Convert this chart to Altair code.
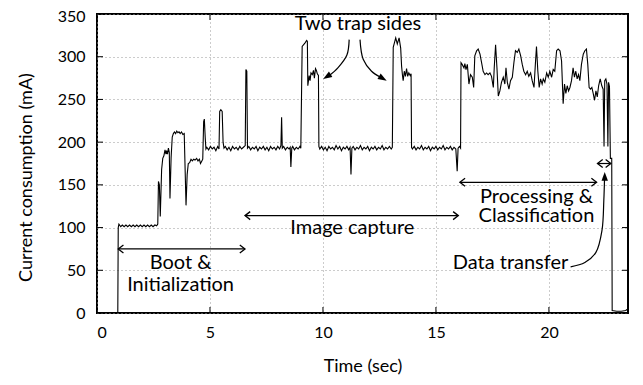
import altair as alt
import pandas as pd

# ---------------- data ----------------
boot_segment = [
    (0.00, 0), (0.92, 0), (0.94, 100), (0.97, 104), (1.05, 101), (1.12, 103), (1.20, 101),
    (1.28, 103), (1.36, 101), (1.44, 103), (1.52, 101), (1.60, 103), (1.68, 101), (1.76, 103),
    (1.84, 101), (1.92, 103), (2.00, 101), (2.08, 103), (2.16, 101), (2.24, 103), (2.32, 101),
    (2.40, 103), (2.48, 101), (2.56, 103), (2.64, 102),
    (2.69, 104), (2.72, 154), (2.76, 150), (2.80, 113), (2.86, 168), (2.91, 181), (2.96, 184),
    (3.01, 191), (3.05, 186), (3.08, 190), (3.12, 186), (3.16, 193), (3.20, 188), (3.23, 134),
    (3.28, 182), (3.33, 206), (3.38, 210), (3.43, 212), (3.48, 210), (3.53, 213), (3.58, 211),
    (3.63, 212), (3.68, 210), (3.74, 212), (3.80, 209), (3.86, 210), (3.94, 126), (3.99, 162),
    (4.04, 175), (4.10, 176), (4.16, 180), (4.22, 178), (4.28, 180), (4.34, 179), (4.41, 181),
    (4.47, 178), (4.53, 180), (4.58, 175), (4.64, 178), (4.68, 180), (4.72, 224), (4.75, 227),
    (4.79, 205), (4.82, 192),
]

capture_segment = [
    (4.86, 194), (4.94, 191), (5.02, 195), (5.10, 192), (5.18, 194), (5.26, 190), (5.34, 195),
    (5.40, 192), (5.43, 236), (5.48, 238), (5.54, 236), (5.58, 200), (5.62, 193),
    (5.68, 195), (5.76, 191), (5.84, 194), (5.92, 190), (6.00, 195), (6.08, 192), (6.16, 194),
    (6.24, 191), (6.32, 195), (6.40, 192), (6.48, 194), (6.56, 196),
    (6.59, 285), (6.63, 283), (6.66, 193),
    (6.72, 195), (6.80, 191), (6.88, 194), (6.96, 192), (7.04, 195), (7.12, 190), (7.20, 194),
    (7.28, 192), (7.36, 195), (7.44, 191), (7.52, 194), (7.60, 190), (7.68, 195), (7.76, 192),
    (7.84, 194), (7.92, 191), (8.00, 195), (8.08, 192), (8.14, 196),
    (8.17, 229), (8.20, 193),
    (8.26, 195), (8.34, 191), (8.42, 194), (8.50, 192), (8.55, 194), (8.58, 171), (8.62, 193),
    (8.66, 195), (8.74, 191), (8.82, 194), (8.90, 192), (8.98, 195), (9.02, 193),
    (9.08, 312), (9.20, 316), (9.28, 319), (9.31, 318), (9.33, 266), (9.39, 278), (9.43, 272),
    (9.47, 281), (9.53, 279), (9.58, 284), (9.62, 275), (9.67, 286), (9.71, 284), (9.75, 280),
    (9.80, 278), (9.82, 195),
    (9.86, 192), (9.94, 195), (10.02, 191), (10.10, 194), (10.18, 190), (10.26, 195), (10.34, 192),
    (10.42, 194), (10.50, 191), (10.58, 196), (10.66, 192), (10.74, 195), (10.82, 190), (10.90, 194),
    (10.98, 192), (11.06, 195), (11.14, 191), (11.20, 194), (11.24, 162), (11.28, 193), (11.34, 195),
    (11.42, 191), (11.50, 194), (11.58, 192), (11.66, 196), (11.74, 191), (11.82, 194), (11.90, 192),
    (11.98, 195), (12.06, 190), (12.14, 194), (12.22, 192), (12.30, 195), (12.38, 191), (12.46, 194),
    (12.54, 192), (12.62, 196), (12.70, 191), (12.78, 194), (12.86, 192), (12.94, 195), (13.02, 192),
    (13.07, 194),
    (13.11, 311), (13.22, 322), (13.29, 315), (13.37, 322), (13.44, 310), (13.48, 289), (13.52, 278),
    (13.55, 272), (13.60, 283), (13.65, 277), (13.70, 286), (13.75, 277), (13.80, 281), (13.86, 278),
    (13.90, 280), (13.92, 194),
    (13.96, 192), (14.04, 195), (14.12, 191), (14.20, 194), (14.28, 192), (14.36, 196), (14.44, 191),
    (14.52, 194), (14.60, 192), (14.68, 195), (14.76, 190), (14.84, 194), (14.92, 192), (15.00, 195),
    (15.08, 191), (15.16, 194), (15.24, 192), (15.32, 196), (15.40, 191), (15.48, 194), (15.56, 192),
    (15.64, 195), (15.72, 191), (15.80, 194), (15.88, 192), (15.94, 166), (15.98, 193), (16.04, 195),
    (16.09, 193),
]

processing_segment = [
    (16.11, 293), (16.16, 291), (16.24, 287), (16.28, 292), (16.33, 285), (16.39, 291), (16.46, 268),
    (16.53, 279), (16.61, 276), (16.67, 264), (16.72, 301), (16.80, 307), (16.87, 309), (16.95, 303),
    (17.02, 293), (17.09, 283), (17.17, 279), (17.24, 281), (17.31, 279), (17.39, 281), (17.46, 277),
    (17.54, 264), (17.58, 287), (17.64, 314), (17.70, 287), (17.76, 254), (17.83, 260), (17.90, 270),
    (17.98, 276), (18.05, 268), (18.10, 287), (18.16, 270), (18.23, 262), (18.30, 272), (18.38, 276),
    (18.45, 293), (18.52, 307), (18.60, 305), (18.67, 309), (18.75, 301), (18.82, 291), (18.89, 283),
    (18.97, 279), (19.04, 283), (19.11, 277), (19.19, 281), (19.26, 272), (19.34, 264), (19.40, 291),
    (19.45, 312), (19.51, 283), (19.57, 264), (19.63, 274), (19.70, 268), (19.75, 274), (19.82, 270),
    (19.90, 281), (19.97, 276), (20.04, 283), (20.12, 276), (20.19, 285), (20.26, 283), (20.34, 307),
    (20.41, 309), (20.49, 307), (20.56, 295), (20.63, 245), (20.69, 268), (20.75, 257), (20.81, 266),
    (20.87, 260), (20.93, 264), (21.00, 272), (21.07, 287), (21.13, 276), (21.19, 283), (21.25, 274),
    (21.31, 279), (21.37, 272), (21.44, 291), (21.52, 303), (21.59, 307), (21.66, 309), (21.72, 291),
    (21.78, 264), (21.84, 262), (21.90, 264), (21.96, 257), (22.02, 249), (22.08, 260), (22.14, 253),
    (22.20, 266), (22.27, 274), (22.34, 266), (22.40, 262), (22.44, 195), (22.47, 272), (22.52, 274),
    (22.57, 268), (22.61, 195), (22.64, 270), (22.68, 265), (22.72, 181), (22.78, 181), (22.80, 3),
    (23.00, 2), (23.20, 2), (23.40, 3), (23.50, 5),
]

x_ticks = [0, 5, 10, 15, 20]
y_ticks = [0, 50, 100, 150, 200, 250, 300, 350]

# phase double arrows: start, end, level
phase_arrows = [
    (0.94, 6.55, 75),     # Boot & Initialization
    (6.55, 15.99, 114),   # Image capture
    (16.06, 22.11, 153),  # Processing & Classification
    (22.15, 22.74, 175),  # Data transfer
]

single_labels = [
    ("Two trap sides", 11.55, 338),
    ("Image capture", 11.3, 99),
    ("Data transfer", 18.3, 58),
]
boot_label = (["Boot &", "Initialization"], 3.70, 58)
proc_label = (["Processing &", "Classification"], 19.45, 136)

# curved pointer arrows (path points)
curve_left = [(11.16, 320), (11.06, 302), (10.66, 287), (10.28, 278)]
curve_right = [(11.64, 320), (11.78, 297), (12.15, 283), (12.55, 276)]
curve_data = [(20.96, 54), (21.59, 59), (22.08, 71), (22.35, 97), (22.43, 132), (22.46, 156)]

# arrow heads: x, y, angle (deg, clockwise; base shape points up)
heads = [(10.01, 274, 238), (12.82, 272, 120), (22.47, 165, 0)]

# ---------------- build ----------------
trace = pd.DataFrame(boot_segment + capture_segment + processing_segment, columns=["t", "mA"])
xs = alt.Scale(domain=[0, 23.5], nice=False, zero=False)
ys = alt.Scale(domain=[0, 350], nice=False)
FONT = "Lato"
W, H = 531, 299

line = alt.Chart(trace).mark_line(color="black", strokeWidth=1.1, clip=True).encode(
    x=alt.X("t:Q", scale=xs, title="Time (sec)",
            axis=alt.Axis(values=x_ticks, grid=True, ticks=False, domain=False,
                          gridColor="#999999", gridDash=[1, 3], gridWidth=1,
                          labelFont=FONT, labelFontSize=16, labelColor="black", labelPadding=11,
                          titleFont=FONT, titleFontSize=18, titleFontWeight="normal",
                          titleColor="black", titlePadding=17)),
    y=alt.Y("mA:Q", scale=ys, title="Current consumption (mA)",
            axis=alt.Axis(values=y_ticks, grid=True, ticks=False, domain=False,
                          gridColor="#999999", gridDash=[1, 3], gridWidth=1,
                          labelFont=FONT, labelFontSize=16, labelColor="black", labelPadding=12,
                          labelOffset={"condition": {"test": "datum.value == 350", "value": 2},
                                       "value": 0},
                          titleFont=FONT, titleFontSize=18, titleFontWeight="normal",
                          titleColor="black", titleX=-62, titleY=163)),
)

xt = pd.DataFrame({"v": x_ticks})
yt = pd.DataFrame({"v": y_ticks})
tick_len = 6
tb = alt.Chart(xt).mark_rule(color="black", strokeWidth=1).encode(
    x=alt.X("v:Q", scale=xs, axis=None), y=alt.value(H), y2=alt.value(H - tick_len))
tt = alt.Chart(xt).mark_rule(color="black", strokeWidth=1).encode(
    x=alt.X("v:Q", scale=xs, axis=None), y=alt.value(0), y2=alt.value(tick_len))
tl = alt.Chart(yt).mark_rule(color="black", strokeWidth=1).encode(
    y=alt.Y("v:Q", scale=ys, axis=None), x=alt.value(0), x2=alt.value(tick_len))
tr = alt.Chart(yt).mark_rule(color="black", strokeWidth=1).encode(
    y=alt.Y("v:Q", scale=ys, axis=None), x=alt.value(W), x2=alt.value(W - tick_len))

arr = pd.DataFrame(phase_arrows, columns=["a", "b", "y"])
shaft = alt.Chart(arr).mark_rule(color="black", strokeWidth=1.2).encode(
    x=alt.X("a:Q", scale=xs, axis=None), x2="b:Q", y=alt.Y("y:Q", scale=ys, axis=None))
chev_r = alt.Chart(arr).mark_point(shape="M-1.3,-1L0,0L-1.3,1", filled=False, color="black",
                                    strokeWidth=1.3, size=64, opacity=1).encode(
    x=alt.X("b:Q", scale=xs, axis=None), y=alt.Y("y:Q", scale=ys, axis=None))
chev_l = alt.Chart(arr).mark_point(shape="M1.3,-1L0,0L1.3,1", filled=False, color="black",
                                    strokeWidth=1.3, size=64, opacity=1).encode(
    x=alt.X("a:Q", scale=xs, axis=None), y=alt.Y("y:Q", scale=ys, axis=None))

lab = pd.DataFrame(single_labels, columns=["text", "x", "y"])
texts = alt.Chart(lab).mark_text(font=FONT, fontSize=20, color="black", align="center",
                                  baseline="middle").encode(
    x=alt.X("x:Q", scale=xs, axis=None), y=alt.Y("y:Q", scale=ys, axis=None), text="text:N")

boot_df = pd.DataFrame({"text": [boot_label[0]], "x": [boot_label[1]], "y": [boot_label[2]]})
boot_txt = alt.Chart(boot_df).mark_text(font=FONT, fontSize=20, color="black", align="center",
                                        baseline="middle", lineHeight=22).encode(
    x=alt.X("x:Q", scale=xs, axis=None), y=alt.Y("y:Q", scale=ys, axis=None), text="text")

proc_df = pd.DataFrame({"text": [proc_label[0]], "x": [proc_label[1]], "y": [proc_label[2]]})
proc_txt = alt.Chart(proc_df).mark_text(font=FONT, fontSize=20, color="black", align="center",
                                        baseline="middle", lineHeight=19).encode(
    x=alt.X("x:Q", scale=xs, axis=None), y=alt.Y("y:Q", scale=ys, axis=None), text="text")

rows = []
for name, pts in [("left", curve_left), ("right", curve_right), ("data", curve_data)]:
    for i, (cx, cy) in enumerate(pts):
        rows.append({"curve": name, "i": i, "x": cx, "y": cy})
curves_df = pd.DataFrame(rows)
curves = alt.Chart(curves_df).mark_line(color="black", strokeWidth=1.2,
                                        interpolate="catmull-rom").encode(
    x=alt.X("x:Q", scale=xs, axis=None), y=alt.Y("y:Q", scale=ys, axis=None),
    detail="curve:N", order="i:Q")

hd = pd.DataFrame(heads, columns=["x", "y", "ang"])
heads_m = alt.Chart(hd).mark_point(shape="M0,0L-0.8,2.2L0.8,2.2Z", filled=True, color="black",
                                   size=64, opacity=1).encode(
    x=alt.X("x:Q", scale=xs, axis=None), y=alt.Y("y:Q", scale=ys, axis=None),
    angle=alt.Angle("ang:Q", scale=None))

chart = alt.layer(line, tb, tt, tl, tr, shaft, chev_r, chev_l, curves, heads_m,
                  texts, boot_txt, proc_txt).resolve_axis(
    x="independent", y="independent"
).properties(
    width=W, height=H,
    autosize=alt.AutoSizeParams(type="none"),
    padding={"left": 89, "top": 6, "right": 7, "bottom": 64},
    background="white",
).configure_view(stroke="black", strokeWidth=2)

chart.save("out.html", embed_options={"renderer": "svg", "actions": False})
